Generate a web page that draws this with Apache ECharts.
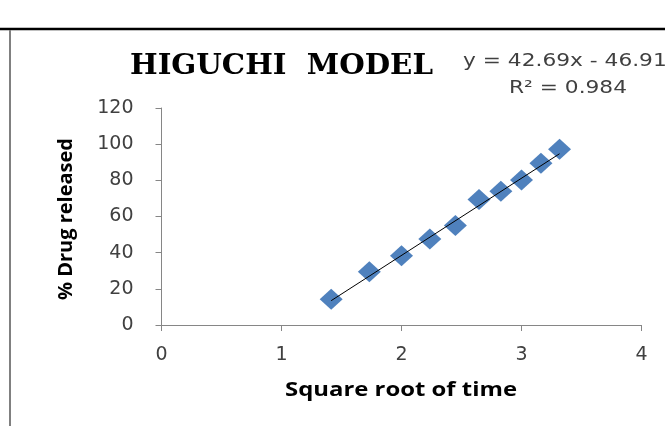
<!DOCTYPE html>
<html><head><meta charset="utf-8">
<script src="https://cdn.jsdelivr.net/npm/echarts@6/dist/echarts.min.js"></script>
<style>html,body{margin:0;padding:0;background:#fff}#c{width:665px;height:426px}</style>
</head><body><div id="c"></div>
<script>
const sqrtTime = [1.414, 1.732, 2.000, 2.236, 2.449, 2.646, 2.828, 3.000, 3.162, 3.317];
const drugReleased = [14.3, 29.4, 38.3, 47.6, 55.0, 69.4, 73.9, 80.2, 89.4, 97.2];
const slope = 42.69;
const intercept = -46.91;
const rSquared = 0.984;
const xTicks = [0, 1, 2, 3, 4];
const yTicks = [0, 20, 40, 60, 80, 100, 120];
const titleText = 'HIGUCHI  MODEL';
const xName = 'Square root of time';
const yName = '% Drug released';
const eqText = 'y = ' + slope.toFixed(2) + 'x - ' + Math.abs(intercept).toFixed(2);
const r2Text = 'R² = ' + rSquared.toFixed(3);

const points = sqrtTime.map((x, i) => [x, drugReleased[i]]);
const xFirst = sqrtTime[0], xLast = sqrtTime[sqrtTime.length - 1];
const trend = [[xFirst, slope * xFirst + intercept], [xLast, slope * xLast + intercept]];

// horizontal stretch factor so a text fills a target width
const ctx = document.createElement('canvas').getContext('2d');
function fit(text, font, target) { ctx.font = font; return target / ctx.measureText(text).width; }

const titleFont = 'bold 27px "DejaVu Serif"';
const nameFont = 'bold 20px "Open Sans"';
const eqFont = '17px "DejaVu Sans"';

const chart = echarts.init(document.getElementById('c'));
const tickFont = {fontFamily: 'DejaVu Sans', fontSize: 19, color: '#404040'};
chart.setOption({
  animation: false,
  grid: {left: 161.5, right: 23.5, top: 108, bottom: 101},
  graphic: [
    {type: 'line', shape: {x1: 0, y1: 29, x2: 665, y2: 29}, style: {stroke: '#000', lineWidth: 2.5}},
    {type: 'line', shape: {x1: 10, y1: 30, x2: 10, y2: 426}, style: {stroke: '#808080', lineWidth: 2}},
    {type: 'text', x: 281.5, y: 67, scaleX: fit(titleText, titleFont, 303),
     style: {text: titleText, font: titleFont, fill: '#000', align: 'center', verticalAlign: 'middle'}},
    {type: 'text', x: 463, y: 62, scaleX: fit(r2Text, eqFont, 118),
     style: {text: eqText, font: eqFont, fill: '#404040', align: 'left', verticalAlign: 'middle'}},
    {type: 'text', x: 509, y: 89, scaleX: fit(r2Text, eqFont, 118),
     style: {text: r2Text, font: eqFont, fill: '#404040', align: 'left', verticalAlign: 'middle'}},
    {type: 'text', x: 401, y: 390, scaleX: fit(xName, nameFont, 232),
     style: {text: xName, font: nameFont, fill: '#000', align: 'center', verticalAlign: 'middle'}},
    {type: 'text', x: 66, y: 219, rotation: Math.PI / 2, scaleX: fit(yName, nameFont, 162),
     style: {text: yName, font: nameFont, fill: '#000', align: 'center', verticalAlign: 'middle'}}
  ],
  xAxis: {
    type: 'value', min: xTicks[0], max: xTicks[xTicks.length - 1], interval: 1,
    axisLine: {lineStyle: {color: '#868686', width: 1}},
    axisTick: {show: true, length: 6, lineStyle: {color: '#868686'}},
    splitLine: {show: false},
    axisLabel: Object.assign({margin: 21}, tickFont)
  },
  yAxis: {
    type: 'value', min: yTicks[0], max: yTicks[yTicks.length - 1], interval: 20,
    axisLine: {show: true, lineStyle: {color: '#868686', width: 1}},
    axisTick: {show: true, length: 6, lineStyle: {color: '#868686'}},
    splitLine: {show: false},
    axisLabel: Object.assign({margin: 28}, tickFont)
  },
  series: [
    {type: 'scatter', data: points, symbol: 'diamond', symbolSize: [23, 21],
     itemStyle: {color: '#4F81BD', opacity: 1}, z: 2},
    {type: 'line', data: trend, symbol: 'none', lineStyle: {color: '#000', width: 1}, z: 3}
  ]
});
</script></body></html>
